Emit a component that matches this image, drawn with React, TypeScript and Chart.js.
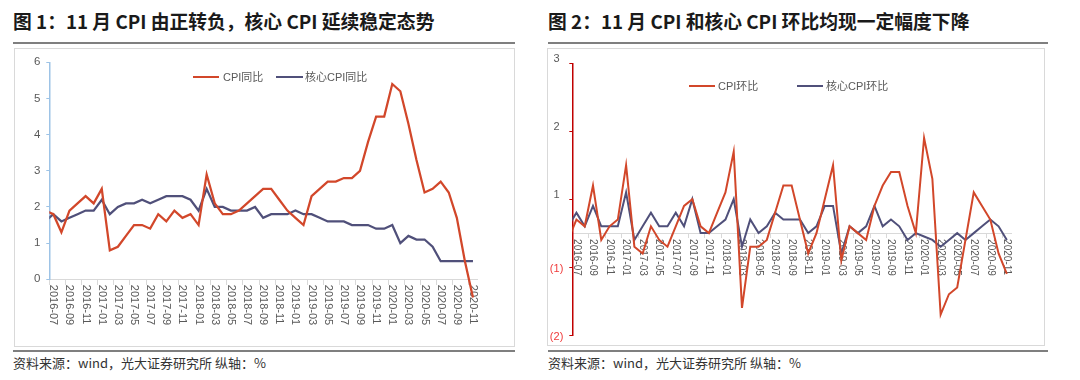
import React, { useEffect, useRef } from 'react';
import { Chart, registerables } from 'chart.js';

Chart.register(...registerables);

// ---------- data ----------
// first category (2016-06) lies just left of the plotted range; the lines enter the plot from it
const months = [
  '2016-06', '2016-07', '2016-08', '2016-09', '2016-10', '2016-11', '2016-12',
  '2017-01', '2017-02', '2017-03', '2017-04', '2017-05', '2017-06', '2017-07', '2017-08', '2017-09', '2017-10', '2017-11', '2017-12',
  '2018-01', '2018-02', '2018-03', '2018-04', '2018-05', '2018-06', '2018-07', '2018-08', '2018-09', '2018-10', '2018-11', '2018-12',
  '2019-01', '2019-02', '2019-03', '2019-04', '2019-05', '2019-06', '2019-07', '2019-08', '2019-09', '2019-10', '2019-11', '2019-12',
  '2020-01', '2020-02', '2020-03', '2020-04', '2020-05', '2020-06', '2020-07', '2020-08', '2020-09', '2020-10', '2020-11',
];

const xTickLabels = [
  '2016-07', '2016-09', '2016-11', '2017-01', '2017-03', '2017-05', '2017-07', '2017-09', '2017-11',
  '2018-01', '2018-03', '2018-05', '2018-07', '2018-09', '2018-11', '2019-01', '2019-03', '2019-05',
  '2019-07', '2019-09', '2019-11', '2020-01', '2020-03', '2020-05', '2020-07', '2020-09', '2020-11',
];

const cpiYoY = [
  1.9, 1.8, 1.3, 1.9, 2.1, 2.3, 2.1,
  2.5, 0.8, 0.9, 1.2, 1.5, 1.5, 1.4, 1.8, 1.6, 1.9, 1.7, 1.8,
  1.5, 2.9, 2.1, 1.8, 1.8, 1.9, 2.1, 2.3, 2.5, 2.5, 2.2, 1.9,
  1.7, 1.5, 2.3, 2.5, 2.7, 2.7, 2.8, 2.8, 3.0, 3.8, 4.5, 4.5,
  5.4, 5.2, 4.3, 3.3, 2.4, 2.5, 2.7, 2.4, 1.7, 0.5, -0.5,
];

const coreYoY = [
  1.6, 1.8, 1.6, 1.7, 1.8, 1.9, 1.9,
  2.2, 1.8, 2.0, 2.1, 2.1, 2.2, 2.1, 2.2, 2.3, 2.3, 2.3, 2.2,
  1.9, 2.5, 2.0, 2.0, 1.9, 1.9, 1.9, 2.0, 1.7, 1.8, 1.8, 1.8,
  1.9, 1.8, 1.8, 1.7, 1.6, 1.6, 1.6, 1.5, 1.5, 1.5, 1.4, 1.4,
  1.5, 1.0, 1.2, 1.1, 1.1, 0.9, 0.5, 0.5, 0.5, 0.5, 0.5,
];

const cpiMoM = [
  -0.1, 0.2, 0.1, 0.7, -0.1, 0.1, 0.2,
  1.0, -0.2, -0.3, 0.1, -0.1, -0.2, 0.1, 0.4, 0.5, 0.1, 0.0, 0.3,
  0.6, 1.2, -1.1, -0.2, -0.2, -0.1, 0.3, 0.7, 0.7, 0.2, -0.3, 0.0,
  0.5, 1.0, -0.4, 0.1, 0.0, -0.1, 0.4, 0.7, 0.9, 0.9, 0.4, 0.0,
  1.4, 0.8, -1.2, -0.9, -0.8, -0.1, 0.6, 0.4, 0.2, -0.3, -0.6,
];

const coreMoM = [
  0.1, 0.3, 0.1, 0.4, 0.1, 0.1, 0.1,
  0.6, -0.1, 0.1, 0.3, 0.1, 0.1, 0.3, 0.1, 0.5, 0.0, 0.0, 0.1,
  0.2, 0.5, -0.2, 0.2, 0.0, 0.1, 0.3, 0.2, 0.2, 0.2, 0.0, 0.1,
  0.4, 0.4, -0.3, 0.1, 0.0, 0.1, 0.4, 0.1, 0.2, 0.1, -0.1, 0.0,
  -0.05, -0.1, -0.2, -0.1, 0.0, -0.1, 0.0, 0.1, 0.2, 0.1, -0.1,
];

const leftYTicks = { min: 0, max: 6, step: 1 };
const rightYTicks = { min: -1.5, max: 2.5, step: 1 };
const rightTickLabels = ['(2)', '(1)', '1', '2', '3'];

const titleLeft = '图 1：11 月 CPI 由正转负，核心 CPI 延续稳定态势';
const titleRight = '图 2：11 月 CPI 和核心 CPI 环比均现一定幅度下降';
const sourceText = '资料来源：wind，光大证券研究所 纵轴：%';
const leftSeriesNames = ['CPI同比', '核心CPI同比'];
const rightSeriesNames = ['CPI环比', '核心CPI环比'];

// ---------- styles ----------
const FONT = '"Liberation Sans", "Noto Sans CJK SC", sans-serif';
const CJK = '"Noto Sans CJK SC", "Liberation Sans", sans-serif';
const RED = '#d2472a';
const NAVY = '#50507a';
const LABEL = '#595959';
const AXIS_GRAY = '#d9d9d9';

function rotatedLabels(fontSize: number, pad: number) {
  return {
    id: 'rotLabels',
    beforeDatasetsDraw(chart: any) {
      const xs = chart.scales.x;
      const ys = chart.scales.y;
      const ctx = chart.ctx;
      const y0 = ys.getPixelForValue(0) + pad;
      ctx.save();
      ctx.font = `${fontSize}px ${FONT}`;
      ctx.fillStyle = LABEL;
      ctx.textAlign = 'left';
      ctx.textBaseline = 'middle';
      xs.ticks.forEach((t: any, k: number) => {
        const label = xs.getLabelForValue(t.value);
        if (!xTickLabels.includes(label)) return;
        const x = xs.getPixelForTick(k);
        ctx.save();
        ctx.translate(x, y0);
        ctx.rotate(Math.PI / 2);
        ctx.fillText(label, 0, 0);
        ctx.restore();
      });
      ctx.restore();
    },
  };
}

const lineClip = { left: 0, top: false, right: false, bottom: false };

function xAxis(tickLen: number) {
  return {
    type: 'category',
    min: '2016-07',
    offset: true,
    position: { y: 0 },
    grid: {
      offset: true,
      drawOnChartArea: false,
      drawTicks: true,
      tickLength: tickLen,
      tickWidth: 1,
      tickColor: (c: any) => (c.index !== undefined && c.index % 2 === 0 ? AXIS_GRAY : 'rgba(0,0,0,0)'),
    },
    border: { color: AXIS_GRAY, width: 1 },
    ticks: { display: false },
  };
}

function fixAxis(width: number) {
  return (s: any) => {
    s.width = width;
    s.paddingTop = 0;
    s.paddingBottom = 0;
  };
}

function LeftChart() {
  const ref = useRef<HTMLCanvasElement>(null);
  useEffect(() => {
    const chart = new Chart(ref.current as HTMLCanvasElement, {
      type: 'line',
      data: {
        labels: months,
        datasets: [
          { label: leftSeriesNames[0], data: cpiYoY, borderColor: RED, backgroundColor: RED, borderWidth: 2.25, pointRadius: 0, tension: 0, clip: lineClip as any },
          { label: leftSeriesNames[1], data: coreYoY, borderColor: NAVY, backgroundColor: NAVY, borderWidth: 2.25, pointRadius: 0, tension: 0, clip: lineClip as any },
        ],
      },
      options: {
        responsive: false,
        animation: false,
        events: [],
        layout: { padding: { left: 0, right: 37, top: 13.3, bottom: 66.7 } },
        plugins: { legend: { display: false }, tooltip: { enabled: false } },
        scales: {
          x: xAxis(5) as any,
          y: {
            min: leftYTicks.min,
            max: leftYTicks.max,
            ticks: { stepSize: leftYTicks.step, color: LABEL, font: { size: 11.5, family: FONT }, padding: 6 },
            grid: { drawOnChartArea: false, tickLength: 3, color: '#9dc3e6' },
            border: { color: '#9dc3e6', width: 1.5 },
            afterFit: fixAxis(34.3),
          },
        },
      },
      plugins: [rotatedLabels(11, 5.5)],
    });
    return () => chart.destroy();
  }, []);
  return <canvas ref={ref} width={499} height={297} style={{ position: 'absolute', left: 15, top: 49, width: 499, height: 297 }} />;
}

function RightChart() {
  const ref = useRef<HTMLCanvasElement>(null);
  useEffect(() => {
    const chart = new Chart(ref.current as HTMLCanvasElement, {
      type: 'line',
      data: {
        labels: months,
        datasets: [
          { label: rightSeriesNames[0], data: cpiMoM, borderColor: RED, backgroundColor: RED, borderWidth: 2, pointRadius: 0, tension: 0, clip: lineClip as any },
          { label: rightSeriesNames[1], data: coreMoM, borderColor: NAVY, backgroundColor: NAVY, borderWidth: 2, pointRadius: 0, tension: 0, clip: lineClip as any },
        ],
      },
      options: {
        responsive: false,
        animation: false,
        events: [],
        layout: { padding: { left: 0, right: 33, top: 14.3, bottom: 11 } },
        plugins: { legend: { display: false }, tooltip: { enabled: false } },
        scales: {
          x: xAxis(4) as any,
          y: {
            min: rightYTicks.min,
            max: rightYTicks.max,
            ticks: {
              stepSize: rightYTicks.step,
              // negative-side labels sit slightly lower than the positive ones in the reference
              callback: (_v: any, i: number) => (i < 2 ? ['', rightTickLabels[i]] : rightTickLabels[i]),
              color: (c: any) => (c.index < 2 ? '#f03c3c' : LABEL),
              font: { size: 11, family: FONT, lineHeight: 1.1 },
              padding: 6,
              crossAlign: 'center',
              labelOffset: -4.5,
            },
            grid: { drawOnChartArea: false, tickLength: 3, color: '#c00000' },
            border: { color: '#c00000', width: 1.5 },
            afterFit: fixAxis(24.3),
          },
        },
      },
      plugins: [rotatedLabels(10, 6)],
    });
    return () => chart.destroy();
  }, []);
  return <canvas ref={ref} width={496} height={297} style={{ position: 'absolute', left: 548, top: 49, width: 496, height: 297 }} />;
}

function LegendItem({ x, y, lineW, textX, color, text }: { x: number; y: number; lineW: number; textX: number; color: string; text: string }) {
  return (
    <>
      <div style={{ position: 'absolute', left: x, top: y - 1, width: lineW, height: 2, background: color }} />
      <div style={{ position: 'absolute', left: textX, top: y - 7, height: 14, lineHeight: '14px', fontSize: 11, color: LABEL, fontFamily: FONT, whiteSpace: 'nowrap' }}>{text}</div>
    </>
  );
}

function Frame({ left, ruleW, boxLeft, boxW, boxH, title }: { left: number; ruleW: number; boxLeft: number; boxW: number; boxH: number; title: string }) {
  return (
    <>
      <div style={{ position: 'absolute', left, top: 10.5, fontSize: 18.8, lineHeight: '19px', fontWeight: 700, color: '#1a1a1a', fontFamily: CJK, whiteSpace: 'nowrap' }}>{title}</div>
      <div style={{ position: 'absolute', left, top: 42, width: ruleW, height: 2, background: '#7f7f7f' }} />
      <div style={{ position: 'absolute', left: boxLeft, top: 48, width: boxW, height: boxH, border: '1px solid #d9d9d9', boxSizing: 'border-box' }} />
      <div style={{ position: 'absolute', left, top: 350, width: ruleW, height: 2, background: '#7f7f7f' }} />
      <div style={{ position: 'absolute', left, top: 355.5, fontSize: 13, lineHeight: '14px', color: '#333', fontFamily: CJK, whiteSpace: 'nowrap' }}>{sourceText}</div>
    </>
  );
}

export default function App() {
  useEffect(() => {
    document.body.style.margin = '0';
  }, []);
  return (
    <div style={{ position: 'relative', width: 1080, height: 380, background: '#fff', overflow: 'hidden' }}>
      <Frame left={13} ruleW={502} boxLeft={14} boxW={501} boxH={299} title={titleLeft} />
      <Frame left={548} ruleW={500} boxLeft={547} boxW={498} boxH={298} title={titleRight} />
      <LeftChart />
      <RightChart />
      <LegendItem x={193} y={77} lineW={26} textX={223} color={RED} text={leftSeriesNames[0]} />
      <LegendItem x={276} y={77} lineW={27} textX={305} color={NAVY} text={leftSeriesNames[1]} />
      <LegendItem x={689} y={86} lineW={26} textX={718} color={RED} text={rightSeriesNames[0]} />
      <LegendItem x={797} y={86} lineW={26} textX={826} color={NAVY} text={rightSeriesNames[1]} />
    </div>
  );
}
